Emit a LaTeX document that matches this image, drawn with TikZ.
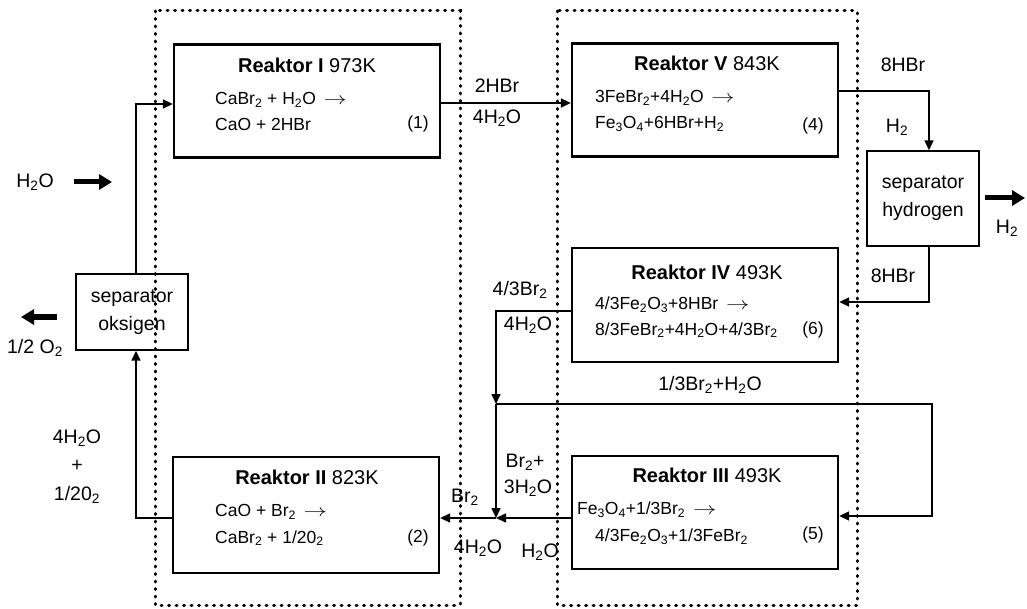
\documentclass[tikz,border=0pt]{standalone}
\usepackage{fontspec}
\setmainfont{Liberation Sans}
\usetikzlibrary{arrows.meta}
\newcommand\sbs[1]{\textsubscript{#1}}
\newcommand\yields{\,\scalebox{1.35}[1]{$\rightarrow$}}
\begin{document}
\begin{tikzpicture}[x=1pt,y=-1pt,
  reactor/.style={draw,line width=2.3pt,minimum width=266pt,minimum height=113pt,inner sep=0pt},
  sepbox/.style={draw,line width=1.4pt,minimum width=112pt,inner sep=0pt,align=center,font=\fontsize{19.5}{28}\selectfont},
  txt/.style={font=\fontsize{17.5}{21}\selectfont,inner sep=0pt},
  ttl/.style={font=\fontsize{20}{24}\selectfont,inner sep=0pt},
  lbl/.style={font=\fontsize{19.5}{23}\selectfont,inner sep=0pt},
  flow/.style={line width=1.6pt,-{Triangle[length=10pt,width=9pt]}},
  fat/.style={line width=5pt,-{Triangle[length=13pt,width=15pt]}},
  zone/.style={line width=3pt,line cap=round,dash pattern=on 1pt off 6.5pt}]
\useasboundingbox (0,0) rectangle (1027,609);
% dotted zones
\draw[zone] (155,11) rectangle (460,605);
\draw[zone] (557,11) rectangle (857,605);
% reactors
\node[reactor] (r1) at (307,101) {};
\node[reactor] (r5) at (705,100) {};
\node[reactor,minimum height=114pt] (r4) at (705,305) {};
\node[reactor] (r3) at (705,512.5) {};
\node[reactor,minimum height=116pt] (r2) at (306,515) {};
\node[sepbox,minimum height=76pt] (sepO) at (132,312) {separator\\oksigen};
\node[sepbox,minimum height=95pt] (sepH) at (923,198.5) {separator\\hydrogen};
% reactor texts
\node[ttl] (t1) at (307,65) {\textbf{Reaktor I} 973K};
\node[txt,anchor=west] (a1) at (215,100) {CaBr\sbs{2} + H\sbs{2}O \yields};
\node[txt,anchor=west] (b1) at (215,124) {CaO + 2HBr};
\node[txt] (n1) at (418,124) {(1)};
\node[ttl] (t5) at (707,63) {\textbf{Reaktor V} 843K};
\node[txt,anchor=west] (a5) at (595,98) {3FeBr\sbs{2}+4H\sbs{2}O \yields};
\node[txt,anchor=west] (b5) at (595,124) {Fe\sbs{3}O\sbs{4}+6HBr+H\sbs{2}};
\node[txt] (n5) at (813,126) {(4)};
\node[ttl] (t4) at (707,272) {\textbf{Reaktor IV} 493K};
\node[txt,anchor=west] (a4) at (595,305) {4/3Fe\sbs{2}O\sbs{3}+8HBr \yields};
\node[txt,anchor=west] (b4) at (595,330) {8/3FeBr\sbs{2}+4H\sbs{2}O+4/3Br\sbs{2}};
\node[txt] (n4) at (813,330) {(6)};
\node[ttl] (t3) at (707,475) {\textbf{Reaktor III} 493K};
\node[txt,anchor=west] (a3) at (577,510) {Fe\sbs{3}O\sbs{4}+1/3Br\sbs{2} \yields};
\node[txt,anchor=west] (b3) at (595,537) {4/3Fe\sbs{2}O\sbs{3}+1/3FeBr\sbs{2}};
\node[txt] (n3) at (813,535) {(5)};
\node[ttl] (t2) at (307,477) {\textbf{Reaktor II} 823K};
\node[txt,anchor=west] (a2) at (215,512) {CaO + Br\sbs{2} \yields};
\node[txt,anchor=west] (b2) at (215,538) {CaBr\sbs{2} + 1/20\sbs{2}};
\node[txt] (n2) at (418,538) {(2)};
% junction coordinates
\coordinate (j1) at (136,104);
\coordinate (j2) at (136,518);
\coordinate (j3) at (500,103);
\coordinate (j4) at (929,91);
\coordinate (j5) at (929,302);
\coordinate (j6) at (496,311);
\coordinate (j7) at (496,404);
\coordinate (j8) at (496,518);
\coordinate (j9) at (932,404);
\coordinate (j10) at (932,516);
% connectors
\draw[flow] (sepO.north -| j1) -- (j1) -- (j1 -| r1.west);
\draw[flow] (j2 -| r2.west) -- (j2) -- (j2 |- sepO.south);
\draw[flow] (j3 -| r1.east) -- (j3 -| r5.west);
\draw[flow] (j4 -| r5.east) -- (j4) -- (j4 |- sepH.north);
\draw[flow] (j5 |- sepH.south) -- (j5) -- (j5 -| r4.east);
\draw[flow] (j6 -| r4.west) -- (j6) -- (j7);
\draw[flow] (j7) -- (j8);
\draw[flow] (j7) -- (j9) -- (j10) -- (j10 -| r3.east);
\draw[flow] (j8 -| r3.west) -- (j8);
\draw[flow] (j8) -- (j8 -| r2.east);
% thick feed/product arrows
\coordinate (h2oA) at (74,182); \coordinate (h2oB) at (112,182);
\coordinate (o2A) at (57,317); \coordinate (o2B) at (21,317);
\coordinate (h2A) at (985,198); \coordinate (h2B) at (1025,198);
\draw[fat] (h2oA) -- (h2oB);
\draw[fat] (o2A) -- (o2B);
\draw[fat] (h2A) -- (h2B);
% labels
\node[lbl] (l1) at (35,182) {H\sbs{2}O};
\node[lbl] (l2) at (35,348) {1/2 O\sbs{2}};
\node[lbl] (l3) at (77,438) {4H\sbs{2}O};
\node[lbl] (l4) at (77,466) {+};
\node[lbl] (l5) at (77,495) {1/20\sbs{2}};
\node[lbl] (l6) at (497,86) {2HBr};
\node[lbl] (l7) at (497,118) {4H\sbs{2}O};
\node[lbl] (l8) at (903,65) {8HBr};
\node[lbl] (l9) at (897,127) {H\sbs{2}};
\node[lbl] (l10) at (893,276) {8HBr};
\node[lbl] (l11) at (1007,228) {H\sbs{2}};
\node[lbl] (l12) at (520,290) {4/3Br\sbs{2}};
\node[lbl] (l13) at (528,325) {4H\sbs{2}O};
\node[lbl] (l14) at (710,385) {1/3Br\sbs{2}+H\sbs{2}O};
\node[lbl] (l15) at (525,462) {Br\sbs{2}+};
\node[lbl] (l16) at (528,488) {3H\sbs{2}O};
\node[lbl] (l17) at (465,497) {Br\sbs{2}};
\node[lbl] (l18) at (478,548) {4H\sbs{2}O};
\node[lbl] (l19) at (540,552) {H\sbs{2}O};
\end{tikzpicture}
\end{document}
